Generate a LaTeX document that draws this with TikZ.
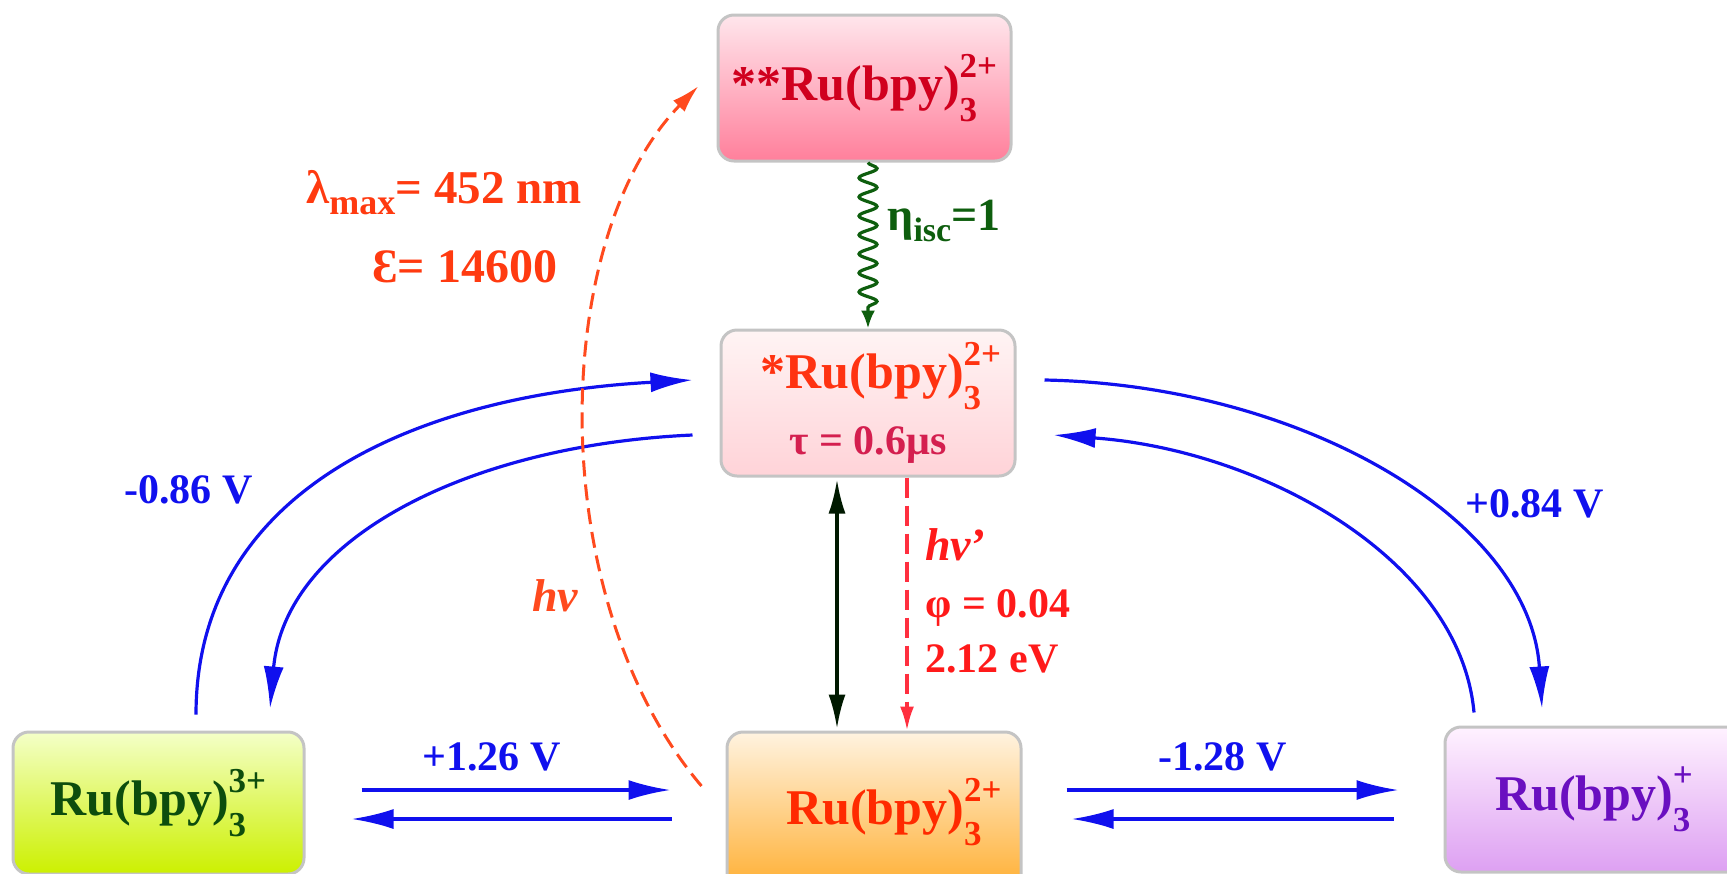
\documentclass[tikz,border=0pt]{standalone}
\usepackage{fontspec}
\setmainfont{Liberation Serif}
\usetikzlibrary{arrows.meta,decorations.pathmorphing}

\definecolor{boxgray}{HTML}{C4C4C4}
\definecolor{redoxblue}{HTML}{1010EE}
\definecolor{iscgreen}{HTML}{0E5E0E}
\definecolor{photred}{HTML}{FF2F3F}
\definecolor{absred}{HTML}{FF4A1E}
\definecolor{labred}{HTML}{FF3A10}
\definecolor{emred}{HTML}{FF1A1A}
\definecolor{taured}{HTML}{D41F4F}

% Ru(bpy)_3 with a stacked charge
\newcommand{\rubpy}[1]{Ru(bpy)\makebox[0pt][l]{\raisebox{-0.42em}{\fontsize{17.5}{18}\selectfont 3}}%
  \raisebox{0.47em}{\fontsize{17.5}{18}\selectfont #1}}

\begin{document}
\begin{tikzpicture}[x=0.5pt, y=-0.5pt,
  species/.style={draw=boxgray, line width=1.5pt, rounded corners=8pt, inner sep=0pt,
    align=center, font=\fontsize{25}{30}\selectfont\bfseries},
  redox/.style={draw=redoxblue, line width=1.6pt, -{Latex[length=21pt, width=10pt]}},
  lbl/.style={font=\fontsize{21}{25}\selectfont\bfseries, inner sep=0pt, anchor=base west}
]
\useasboundingbox (0,0) rectangle (1727,873);

% species
\node[species, minimum width=146.5pt, minimum height=73pt, top color={rgb,255:red,255;green,230;blue,236},
  bottom color={rgb,255:red,255;green,127;blue,155}, text={rgb,255:red,208;green,0;blue,30}]
  (exc2) at (864.5,88) {**\rubpy{2+}};
\node[species, minimum width=147pt, minimum height=73pt, top color={rgb,255:red,255;green,244;blue,244},
  bottom color={rgb,255:red,255;green,211;blue,216}, text={rgb,255:red,255;green,51;blue,17}]
  (exc1) at (868,403) {\hspace*{13pt}*\rubpy{2+}\\[3pt]
  {\color{taured}\fontsize{21}{24}\selectfont τ = 0.6μs}};
\node[species, minimum width=145.5pt, minimum height=71pt, top color={rgb,255:red,244;green,255;blue,200},
  bottom color={rgb,255:red,204;green,240;blue,0}, text={rgb,255:red,13;green,77;blue,13}]
  (ox) at (158.5,803) {\rubpy{3+}};
\node[species, minimum width=147pt, minimum height=80pt, top color={rgb,255:red,255;green,243;blue,224},
  bottom color={rgb,255:red,255;green,174;blue,48}, text={rgb,255:red,255;green,42;blue,0}]
  (gnd) at (874,812) {\hspace*{20pt}\rubpy{2+}};
\node[species, minimum width=149pt, minimum height=72.5pt, top color={rgb,255:red,255;green,242;blue,255},
  bottom color={rgb,255:red,221;green,160;blue,242}, text={rgb,255:red,106;green,15;blue,192}]
  (red) at (1594,799.5) {\rubpy{+}};

% electron transfer
\draw[redox] ([shift={(37.5,-16)}]ox.north) .. controls +(0,-226) and +(-274,15) .. ([shift={(-27,-23)}]exc1.west);
\draw[redox] ([shift={(-27,32)}]exc1.west) .. controls +(-224,10) and +(15,-170) .. ([shift={(111.5,-22)}]ox.north);
\draw[redox] ([shift={(28,-23)}]exc1.east) .. controls +(257,5) and +(-12,-190) .. ([shift={(-52,-17)}]red.north);
\draw[redox] ([shift={(-120,-13)}]red.north) .. controls +(-14,-154) and +(208,15) .. ([shift={(37,32)}]exc1.east);
\draw[redox] ([shift={(56,-13)}]ox.east) -- ([shift={(-55,-22)}]gnd.west);
\draw[redox] ([shift={(-54,7)}]gnd.west) -- ([shift={(46,16)}]ox.east);
\draw[redox] ([shift={(44,-22)}]gnd.east) -- ([shift={(-45,-9.5)}]red.west);
\draw[redox] ([shift={(-50,19.5)}]red.west) -- ([shift={(49,7)}]gnd.east);

% photophysics
\draw[black!90!green, line width=1.6pt, {Latex[length=17pt, width=8.5pt]}-{Latex[length=17pt, width=8.5pt]}]
  ([shift={(-31,2)}]exc1.south) -- ([shift={(-37,-2)}]gnd.north);
\draw[photred, line width=1.6pt, dash pattern=on 10pt off 4pt, -{Latex[length=12pt, width=7pt]}]
  ([shift={(39,0)}]exc1.south) -- ([shift={(33,0)}]gnd.north);
\draw[iscgreen, line width=1.6pt, -{Latex[length=9pt, width=7pt]}, decorate,
  decoration={snake, amplitude=4.5pt, segment length=9.5pt, post length=8pt}]
  ([shift={(3.5,0)}]exc2.south) -- (exc1.north);
\draw[absred, line width=1.5pt, dash pattern=on 8pt off 4pt, -{Latex[length=14pt, width=8pt]}]
  ([shift={(-24,-26)}]gnd.west) .. controls +(-158,-186) and +(-150,154) .. ([shift={(-18,-2)}]exc2.west);

% labels
\node[lbl, text=labred, font=\fontsize{23.5}{28}\selectfont\bfseries] (lmax) at (306,203)
  {λ\raisebox{-0.25em}{\fontsize{18}{20}\selectfont max}= 452 nm};
\node[lbl, text=labred, font=\fontsize{24}{28}\selectfont\bfseries] (eps) at (372,282) {Ɛ= 14600};
\node[lbl, text=iscgreen, font=\fontsize{23}{27}\selectfont\bfseries] (eta) at (887,230)
  {η\raisebox{-0.25em}{\fontsize{17}{20}\selectfont isc}=1};
\node[lbl, text=redoxblue] (ered1) at (124,503) {-0.86 V};
\node[lbl, text=redoxblue] (eox1) at (1465,517) {+0.84 V};
\node[lbl, text=redoxblue] (eox0) at (422,770) {+1.26 V};
\node[lbl, text=redoxblue] (ered0) at (1158,770) {-1.28 V};
\node[lbl, text=absred, font=\fontsize{23}{27}\selectfont\bfseries] (hv) at (532,611) {\textit{hν}};
\node[lbl, text=emred, font=\fontsize{23}{27}\selectfont\bfseries] (hvem) at (925,560) {\textit{hν}'};
\node[lbl, text=emred] (phi) at (925,617) {φ = 0.04};
\node[lbl, text=emred] (eem) at (925,672) {2.12 eV};
\end{tikzpicture}
\end{document}
